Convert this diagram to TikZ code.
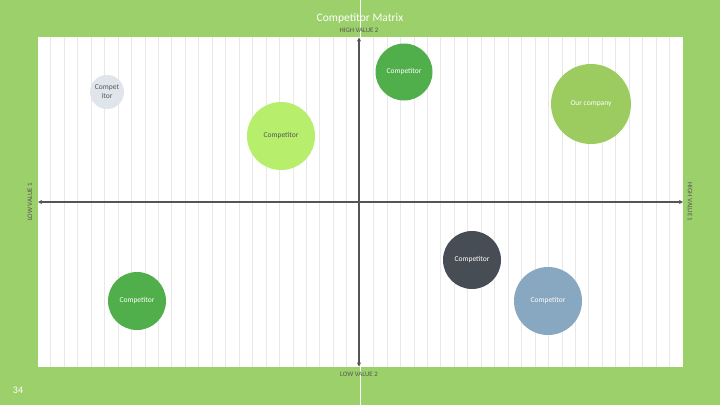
\documentclass[tikz,border=0pt]{standalone}
\usepackage{fontspec}
\setmainfont{Carlito}
\usetikzlibrary{arrows.meta}
\definecolor{slidegreen}{RGB}{155,208,106}
\definecolor{gridgray}{RGB}{232,232,232}
\definecolor{axgray}{RGB}{85,85,85}
\definecolor{palegray}{RGB}{223,229,235}
\definecolor{limegreen}{RGB}{183,238,108}
\definecolor{midgreen}{RGB}{80,175,74}
\definecolor{ourgreen}{RGB}{156,204,95}
\definecolor{slate}{RGB}{71,77,85}
\definecolor{steelblue}{RGB}{136,167,192}
\tikzset{
  bubble/.style ={circle, inner sep=0pt, align=center, text=white,
                  font=\fontsize{7.5}{9}\selectfont},
  lbubble/.style={bubble, text=axgray},
  axlbl/.style  ={font=\fontsize{6.8}{8}\selectfont, text=axgray},
  axis/.style   ={draw=axgray, line width=1.3pt,
                  {Stealth[length=4pt,width=4pt]}-{Stealth[length=4pt,width=4pt]}}
}
\begin{document}
\begin{tikzpicture}[x=1pt,y=-1pt]
\useasboundingbox (0,0) rectangle (720,405);
\fill[slidegreen] (0,0) rectangle (720,405);
\fill[white] (37.5,37) rectangle (683,367);
\foreach \k in {-23,...,23}{\draw[gridgray, line width=0.5pt] ({360+13.45*\k},37) -- ({360+13.45*\k},367);}
\draw[white, line width=0.8pt] (360,0) -- (360,405);

% axes
\coordinate (xl) at (38,202);
\coordinate (xr) at (683,202);
\coordinate (yt) at (359,37.5);
\coordinate (yb) at (359,366.5);
\draw[axis] (xl) -- (xr);
\draw[axis] (yb) -- (yt);

\node[text=white, font=\fontsize{11.5}{14}\selectfont] (title) at (360,18) {Competitor Matrix};
\node[axlbl] (hi2) at (359,30) {HIGH VALUE 2};
\node[axlbl] (lo2) at (359,374) {LOW VALUE 2};
\node[axlbl, rotate=90] (lo1) at (30,202) {LOW VALUE 1};
\node[axlbl, rotate=-90] (hi1) at (690,202) {HIGH VALUE 1};
\node[text=white, font=\fontsize{10}{12}\selectfont] (pg) at (18,390) {34};

% competitors
\node[lbubble, fill=palegray, minimum size=34pt] (c1) at (107,92) {Compet\\itor};
\node[lbubble, fill=limegreen, minimum size=68pt] (c2) at (281,136) {Competitor};
\node[bubble, fill=midgreen, minimum size=57pt] (c3) at (404,72) {Competitor};
\node[bubble, fill=ourgreen, minimum size=80pt] (us) at (591,104) {Our company};
\node[bubble, fill=slate, minimum size=58pt] (c4) at (472,260) {Competitor};
\node[bubble, fill=steelblue, minimum size=68pt] (c5) at (548,301) {Competitor};
\node[bubble, fill=midgreen, minimum size=58pt] (c6) at (137,301) {Competitor};
\end{tikzpicture}
\end{document}
